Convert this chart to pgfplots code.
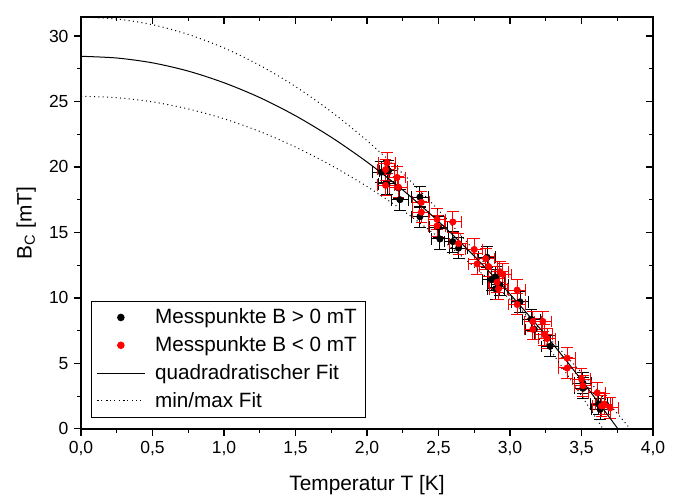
\documentclass[border=0pt]{standalone}
\usepackage{pgfplots}
\pgfplotsset{compat=1.18}
\usepackage{pgfplotstable}
\usepackage{fontspec}
\setmainfont{Liberation Sans}

% Messpunkte B > 0
\pgfplotstableread{
T    B
2.10 19.6
2.15 19.7
2.14 18.7
2.22 18.4
2.23 17.5
2.37 17.7
2.37 16.2
2.50 15.4
2.51 14.5
2.60 14.3
2.64 13.8
2.84 13.1
2.90 11.6
2.87 11.4
2.93 11.0
2.90 10.7
3.07 9.7
3.15 8.35
3.17 7.6
3.28 6.3
3.51 3.5
3.51 3.1
3.62 1.9
3.63 1.5
}\pos

% Messpunkte B < 0
\pgfplotstableread{
T    B
2.14 20.3
2.13 19.8
2.21 19.2
2.13 18.6
2.22 18.45
2.38 17.3
2.38 16.55
2.49 16.0
2.49 15.5
2.60 15.8
2.64 14.15
2.75 13.7
2.83 13.0
2.77 12.6
2.85 12.4
2.93 12.0
2.95 11.8
2.91 11.2
2.92 10.7
3.05 10.6
3.05 9.5
3.16 8.2
3.23 8.2
3.16 7.6
3.24 7.2
3.26 6.9
3.40 5.4
3.40 4.65
3.50 3.8
3.51 3.3
3.61 2.75
3.66 1.9
3.64 1.75
3.70 1.6
}\neg

\pgfplotstableread{
T     B
0     28.45
0.25  28.32
0.5   27.95
0.75  27.32
1.0   26.43
1.25  25.30
1.5   23.91
1.75  22.27
2.0   20.38
2.25  18.24
2.5   15.84
2.75  13.19
3.0   10.29
3.25  7.14
3.5   3.73
3.755 0
}\fit

\pgfplotstableread{
T     B
0     31.45
0.25  31.30
0.5   30.86
0.75  30.12
1.0   29.09
1.25  27.76
1.5   26.14
1.75  24.22
2.0   22.01
2.25  19.50
2.5   16.70
2.75  13.60
3.0   10.20
3.25  6.52
3.5   2.53
3.65  0
}\fitmax

\pgfplotstableread{
T     B
0     25.40
0.25  25.29
0.5   24.97
0.75  24.43
1.0   23.68
1.25  22.71
1.5   21.52
1.75  20.12
2.0   18.51
2.25  16.68
2.5   14.63
2.75  12.37
3.0   9.90
3.25  7.21
3.5   4.30
3.75  1.18
3.84  0
}\fitmin

\pgfplotsset{
  common/.style={
    width=343pt, height=247pt, scale only axis,
    xmin=0, xmax=4, ymin=0, ymax=31.45,
    xtick distance=0.5, ytick distance=5,
    minor x tick num=1, minor y tick num=1,
    axis line style={line width=0.8pt},
    major tick length=4pt, minor tick length=2.2pt,
    every tick/.style={black, line width=0.7pt},
  },
}

\begin{document}
\begin{tikzpicture}
\begin{axis}[
  common,
  tick align=outside,
  xtick pos=bottom, ytick pos=left,
  tick label style={font=\fontsize{10.5}{12}\selectfont},
  /pgf/number format/assume math mode=true,
  /pgf/number format/use comma,
  xticklabel={\pgfmathprintnumber[fixed,fixed zerofill,precision=1]{\tick}},
  yticklabel={\pgfmathprintnumber[fixed,precision=0]{\tick}},
  xlabel={Temperatur T [K]},
  ylabel={B\textsubscript{C} [mT]},
  label style={font=\fontsize{12.5}{14}\selectfont},
  xlabel style={yshift=-5pt},
  ylabel style={yshift=1pt},
  legend cell align=left,
  legend style={at={(rel axis cs:0.0175,0.027)}, anchor=south west,
    draw=black, line width=0.7pt, font=\fontsize{12.4}{14}\selectfont,
    row sep=2.2pt, inner xsep=3pt, inner ysep=2.5pt,
    /tikz/every odd column/.append style={column sep=4pt}},
  legend image code/.code={\draw[mark repeat=2,mark phase=2,#1]
    plot coordinates {(0cm,0cm) (0.5cm,0cm) (1cm,0cm)};},
]
\addplot[only marks, mark=*, mark size=1.9pt, black,
  error bars/.cd, x dir=both, x fixed=0.06, y dir=both, y fixed=0.8,
  error bar style={line width=0.6pt, black},
  error mark options={black, line width=0.6pt, mark size=3.5pt, rotate=90}]
  table[x=T, y=B] {\pos};
\addlegendentry{Messpunkte B > 0 mT}
\addplot[only marks, mark=*, mark size=1.9pt, red,
  error bars/.cd, x dir=both, x fixed=0.06, y dir=both, y fixed=0.8,
  error bar style={line width=0.6pt, red},
  error mark options={red, line width=0.6pt, mark size=3.5pt, rotate=90}]
  table[x=T, y=B] {\neg};
\addlegendentry{Messpunkte B < 0 mT}
\addplot[black, line width=0.6pt, smooth, no marks] table[x=T, y=B] {\fit};
\addlegendentry{quadradratischer Fit}
\addplot[black, line width=0.6pt, dotted, smooth, no marks] table[x=T, y=B] {\fitmax};
\addlegendentry{min/max Fit}
\addplot[black, line width=0.6pt, dotted, smooth, no marks, forget plot] table[x=T, y=B] {\fitmin};
\end{axis}
\begin{axis}[
  common,
  tick align=inside,
  xtick pos=top, ytick pos=right,
  xticklabels={}, yticklabels={},
]
\end{axis}
\path ([shift={(-48.6pt,-42.6pt)}]current axis.south west)
  rectangle ([shift={(18pt,10.2pt)}]current axis.north east);
\end{tikzpicture}
\end{document}
